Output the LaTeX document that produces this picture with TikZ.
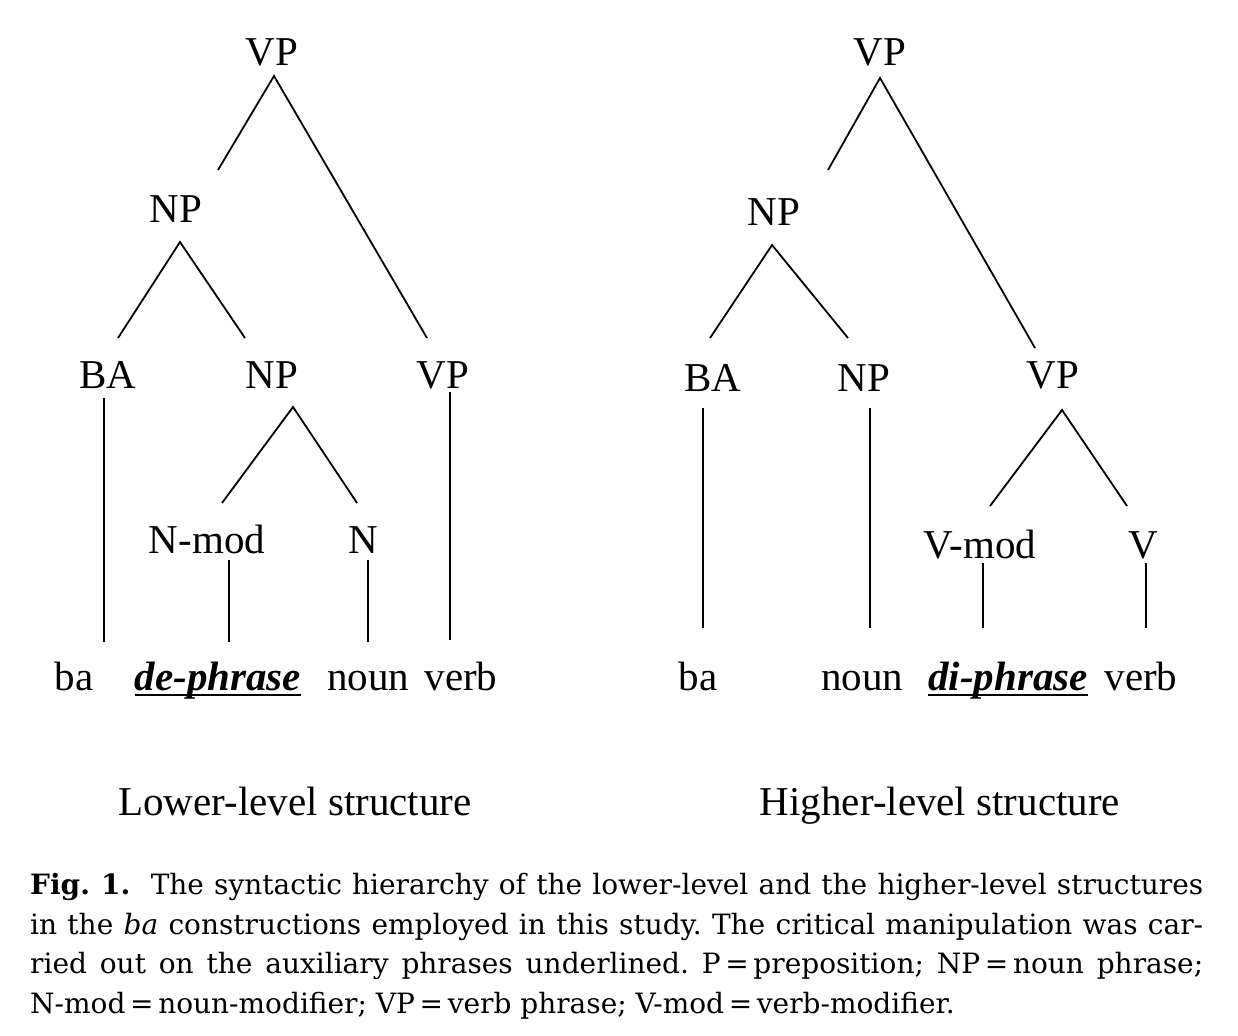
\documentclass[tikz,border=0pt]{standalone}
\usepackage{fontspec}
\setmainfont{Liberation Serif}
\newfontfamily\capfont{DejaVu Serif}
\begin{document}
\frenchspacing
\begin{tikzpicture}[x=1pt,y=-1pt,
  lbl/.style={anchor=base,inner sep=0pt,font=\fontsize{41}{48}\selectfont},
  branch/.style={line width=1.8pt},
  uline/.style={line width=2.6pt}]
\useasboundingbox (0,0) rectangle (1238,1035);
% ---------- left tree ----------
\node[lbl] (lVP) at (272,66) {VP};
\node[lbl] (lNP) at (176,222) {NP};
\node[lbl] (lBA) at (108,388) {BA};
\node[lbl] (lNPb) at (272,388) {NP};
\node[lbl] (lVPb) at (443,388) {VP};
\node[lbl] (lNmod) at (207,553) {N-mod};
\node[lbl] (lN) at (363,553) {N};
\node[lbl] (lba) at (74,690) {ba};
\node[lbl] (lde) at (218,690) {\textbf{\textit{de-phrase}}};
\node[lbl] (lnoun) at (368,690) {noun};
\node[lbl] (lverb) at (461,690) {verb};
\node[lbl] (ltitle) at (295,815) {Lower-level structure};
\draw[uline] ([yshift=-5pt]lde.base west) -- ([yshift=-5pt]lde.base east);
\draw[branch] ([shift={(42,-52)}]lNP.base) -- ([shift={(2,10)}]lVP.base) -- ([shift={(-16,-50)}]lVPb.base);
\draw[branch] ([shift={(10,-50)}]lBA.base) -- ([shift={(4,20)}]lNP.base) -- ([shift={(-27,-50)}]lNPb.base);
\draw[branch] ([shift={(15,-50)}]lNmod.base) -- ([shift={(21,19)}]lNPb.base) -- ([shift={(-6,-50)}]lN.base);
\draw[branch] ([shift={(-4,10)}]lBA.base) -- ([shift={(30,-48)}]lba.base);
\draw[branch] ([shift={(7,4)}]lVPb.base) -- ([shift={(-11,-50)}]lverb.base);
\draw[branch] ([shift={(22,7)}]lNmod.base) -- ([shift={(11,-48)}]lde.base);
\draw[branch] ([shift={(5,7)}]lN.base) -- ([shift={(0,-48)}]lnoun.base);
% ---------- right tree ----------
\node[lbl] (rVP) at (880,66) {VP};
\node[lbl] (rNP) at (774,225) {NP};
\node[lbl] (rBA) at (713,391) {BA};
\node[lbl] (rNPb) at (864,391) {NP};
\node[lbl] (rVPb) at (1053,388) {VP};
\node[lbl] (rVmod) at (980,558) {V-mod};
\node[lbl] (rV) at (1143,558) {V};
\node[lbl] (rba) at (698,690) {ba};
\node[lbl] (rnoun) at (862,690) {noun};
\node[lbl] (rdi) at (1008,690) {\textbf{\textit{di-phrase}}};
\node[lbl] (rverb) at (1141,690) {verb};
\node[lbl] (rtitle) at (940,815) {Higher-level structure};
\draw[uline] ([yshift=-5pt]rdi.base west) -- ([yshift=-5pt]rdi.base east);
\draw[branch] ([shift={(54,-55)}]rNP.base) -- ([shift={(0,12)}]rVP.base) -- ([shift={(-18,-40)}]rVPb.base);
\draw[branch] ([shift={(-3,-53)}]rBA.base) -- ([shift={(-2,20)}]rNP.base) -- ([shift={(-16,-53)}]rNPb.base);
\draw[branch] ([shift={(10,-52)}]rVmod.base) -- ([shift={(9,22)}]rVPb.base) -- ([shift={(-16,-52)}]rV.base);
\draw[branch] ([shift={(-10,17)}]rBA.base) -- ([shift={(5,-62)}]rba.base);
\draw[branch] ([shift={(6,17)}]rNPb.base) -- ([shift={(8,-62)}]rnoun.base);
\draw[branch] ([shift={(3,5)}]rVmod.base) -- ([shift={(-25,-62)}]rdi.base);
\draw[branch] ([shift={(3,5)}]rV.base) -- ([shift={(5,-62)}]rverb.base);
% ---------- caption ----------
\node[anchor=north west,inner sep=0pt,text width=1173pt,align=justify,
      font=\capfont\fontsize{28}{39.7}\selectfont] (cap) at (30,873)
 {\textbf{Fig.~1.}\ \ The syntactic hierarchy of the lower-level and the higher-level structures\linebreak
  in the \textit{ba} constructions employed in this study. The critical manipulation was car-\linebreak
  ried out on the auxiliary phrases underlined. P\,=\,preposition; NP\,=\,noun phrase;\linebreak
  N-mod\,=\,noun-modifier; VP\,=\,verb phrase; V-mod\,=\,verb-modifier.};
\end{tikzpicture}
\end{document}
